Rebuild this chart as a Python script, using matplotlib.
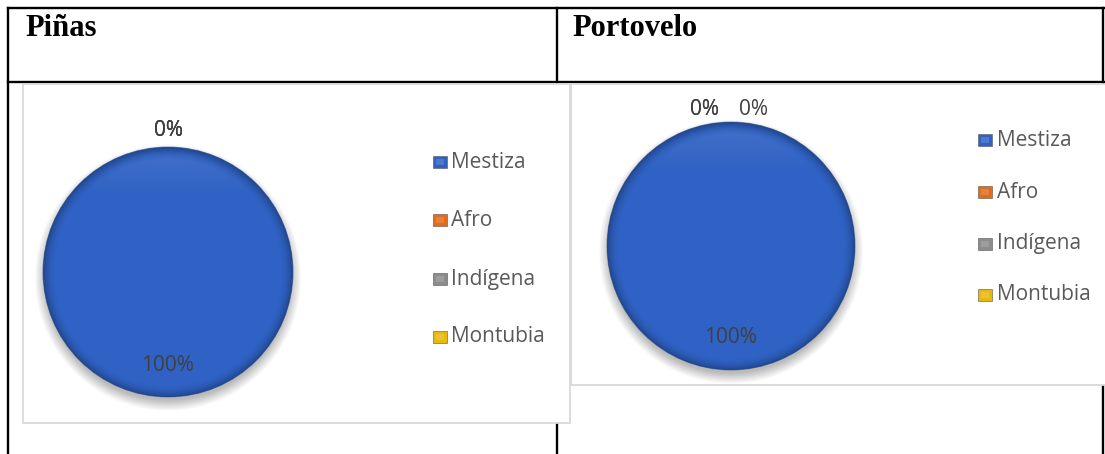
import numpy as np
import matplotlib
matplotlib.use("Agg")
import matplotlib.pyplot as plt
from matplotlib.patches import Rectangle, Circle

# ---------------- data ----------------
categories = ["Mestiza", "Afro", "Indígena", "Montubia"]
pinas_values = [100, 0, 0, 0]
portovelo_values = [100, 0, 0, 0]
panel_titles = ["Piñas", "Portovelo"]
colors = ["#2F62C4", "#E26B1C", "#8C8C8C", "#E9B80C"]

W, H = 1105, 454
fig = plt.figure(figsize=(W / 100, H / 100), dpi=100)
fig.patch.set_facecolor("white")

# background axes in pixel coordinates
bg = fig.add_axes([0, 0, 1, 1])
bg.set_xlim(0, W)
bg.set_ylim(H, 0)
bg.axis("off")

LBL = "#404040"
LEG = "#595959"
FONT = "Open Sans"

# table lines
lw_tab = 1.7
bg.plot([8, 1104], [8, 8], color="black", lw=lw_tab, solid_capstyle="projecting")
bg.plot([8, 1104], [82, 82], color="black", lw=lw_tab)
bg.plot([8, 8], [8, 454], color="black", lw=lw_tab)
bg.plot([557, 557], [8, 454], color="black", lw=lw_tab)
bg.plot([1103, 1103], [8, 454], color="black", lw=lw_tab)

# chart frames (white-filled, light grey borders)
bg.add_patch(Rectangle((23, 84), 547, 339, facecolor="white", edgecolor="#D9D9D9", lw=1.3, zorder=3))
bg.add_patch(Rectangle((571, 84), 540, 301, facecolor="white", edgecolor="#D9D9D9", lw=1.3, zorder=4))

# titles
bg.text(25, 28, panel_titles[0], fontsize=22, fontweight="bold", family="Liberation Serif",
        va="center", ha="left", zorder=5)
bg.text(572, 28, panel_titles[1], fontsize=22, fontweight="bold", family="Liberation Serif",
        va="center", ha="left", zorder=5)


def draw_pie(cx, cy, r, values, label_dx, lbl_out_r, lbl_in_r):
    half = 170
    lim = half / r
    ax = fig.add_axes([(cx - half) / W, (H - cy - half) / H, 2 * half / W, 2 * half / H])
    ax.axis("off")
    ax.patch.set_visible(False)

    n = 400
    xs = np.linspace(-lim, lim, n)
    X, Y = np.meshgrid(xs, xs)

    wedges, _ = ax.pie(values, colors=colors, startangle=90, counterclock=False, radius=1,
                       wedgeprops=dict(linewidth=0), normalize=True)
    for w in wedges:
        w.set_zorder(2)

    # soft drop shadow
    D = np.hypot(X, Y + 0.045)
    a = np.clip((1.07 - D) / 0.09, 0, 1) * 0.45
    sh = np.zeros((n, n, 4))
    sh[..., :3] = 0.4
    sh[..., 3] = a
    ax.imshow(sh, extent=(-lim, lim, -lim, lim), origin="lower", zorder=1, interpolation="bilinear")

    # shading overlay (dark rim, light top)
    D0 = np.hypot(X, Y)
    shade = np.zeros((n, n, 4))
    rim = np.clip((D0 - 0.90) / 0.10, 0, 1) ** 2
    top = np.clip((Y - 0.6) / 0.4, 0, 1) * np.clip((0.98 - D0) / 0.08, 0, 1)
    shade[..., 3] = rim * 0.28
    light = np.zeros((n, n, 4))
    light[..., :3] = 1.0
    light[..., 3] = top * 0.10
    im1 = ax.imshow(shade, extent=(-lim, lim, -lim, lim), origin="lower", zorder=3, interpolation="bilinear")
    im1.set_clip_path(Circle((0, 0), 1.0, transform=ax.transData))
    im2 = ax.imshow(light, extent=(-lim, lim, -lim, lim), origin="lower", zorder=3, interpolation="bilinear")
    im2.set_clip_path(Circle((0, 0), 1.0, transform=ax.transData))
    ax.add_patch(Circle((0, 0), 1.0, fill=False, ec="#1E3F80", lw=0.7, alpha=0.5, zorder=4))

    total = float(sum(values))
    for i, (w, v) in enumerate(zip(wedges, values)):
        mid = np.deg2rad((w.theta1 + w.theta2) / 2)
        pct = 100 * v / total
        rr = lbl_in_r if pct >= 50 else lbl_out_r
        x = rr * np.cos(mid) + label_dx[i]
        y = rr * np.sin(mid)
        ax.text(x, y, f"{pct:.0f}%", ha="center", va="center", fontsize=15,
                family=FONT, color=LBL, zorder=6)

    ax.set_xlim(-lim, lim)
    ax.set_ylim(-lim, lim)
    ax.set_aspect("equal")
    return ax


draw_pie(168, 272, 125, pinas_values, [0, 0, 0, 0], 1.13, 0.75)
draw_pie(731, 246, 124, portovelo_values, [0, -0.21, -0.21, 0.18], 1.10, 0.74)


def draw_legend(mx, tx, ys):
    for c, lab, y in zip(colors, categories, ys):
        bg.add_patch(Rectangle((mx - 7, y - 6), 14, 12, facecolor=c, edgecolor="#555555",
                               lw=0.4, zorder=6))
        bg.add_patch(Rectangle((mx - 4, y - 3.5), 8, 6, facecolor="white", edgecolor="none",
                               alpha=0.15, zorder=7))
        bg.text(tx, y, lab, fontsize=15, family=FONT, color=LEG, va="center", ha="left", zorder=7)


draw_legend(440, 451, [162, 220, 279, 337])
draw_legend(985, 997, [140, 192, 244, 295])

fig.savefig("out.png", dpi=100, facecolor="white")
